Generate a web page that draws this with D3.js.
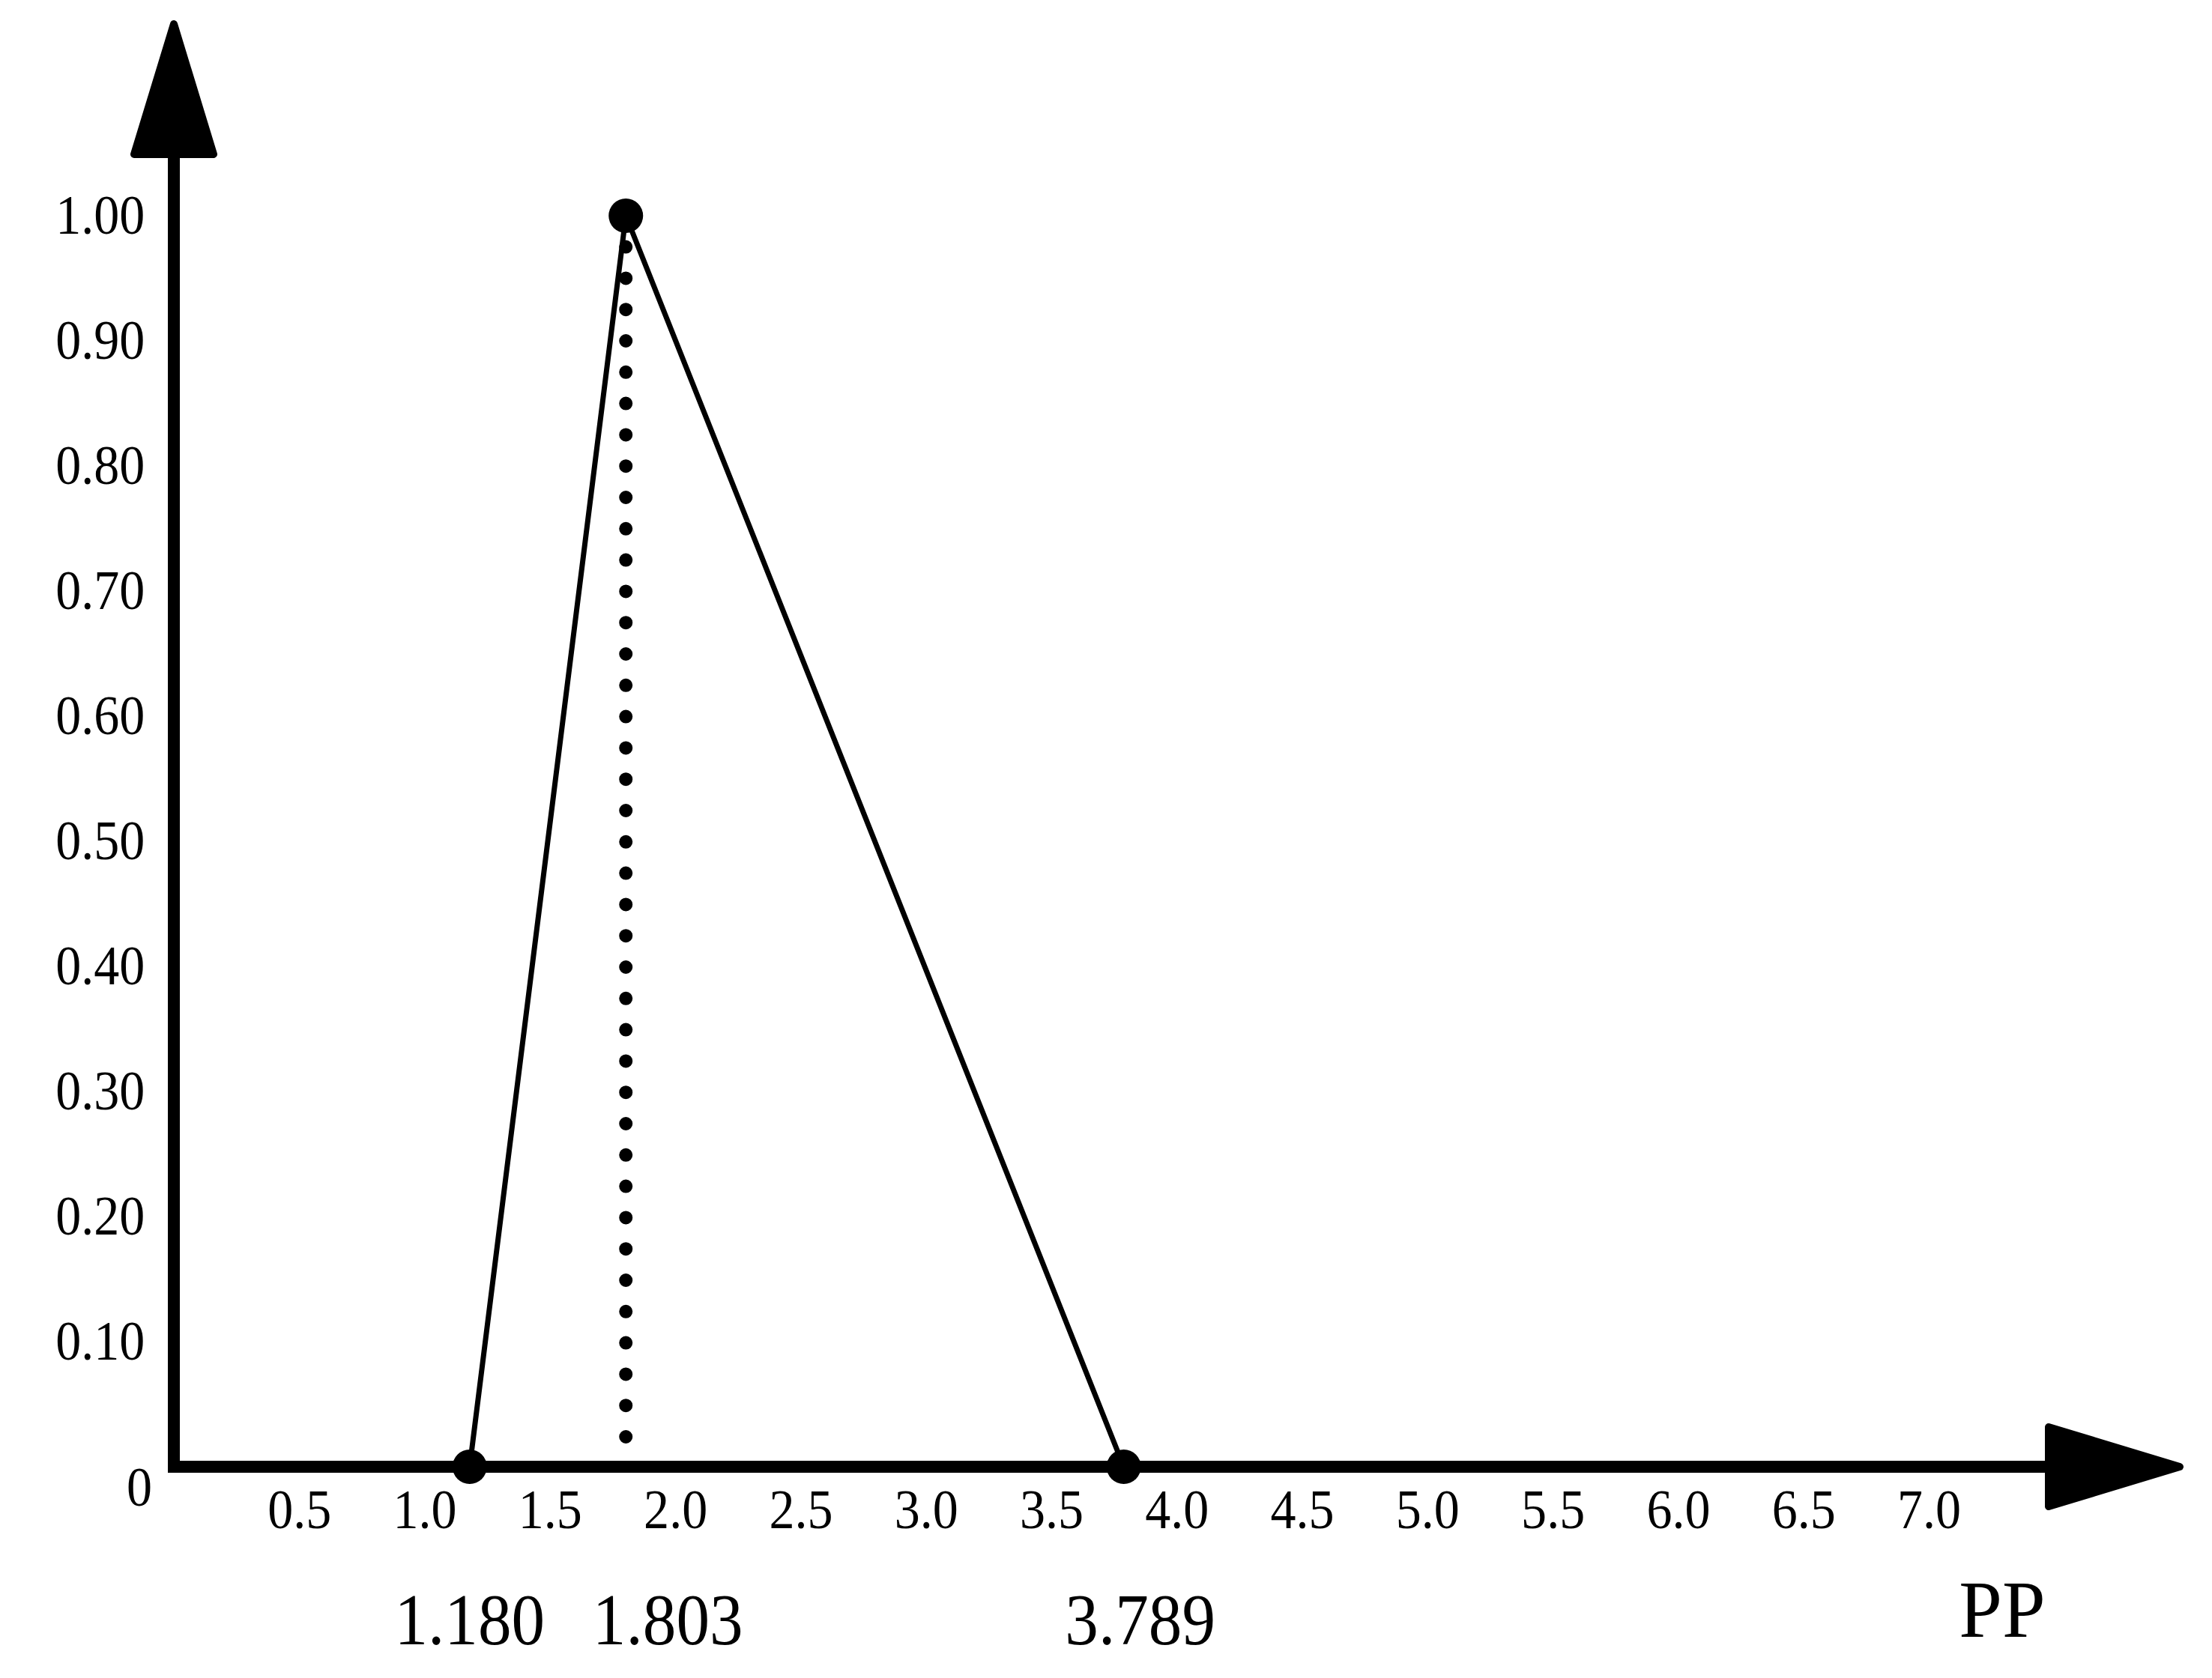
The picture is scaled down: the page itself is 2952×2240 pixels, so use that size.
<!DOCTYPE html>
<html>
<head>
<meta charset="utf-8">
<script src="https://cdn.jsdelivr.net/npm/d3@7"></script>
<style>
  html, body { margin: 0; padding: 0; background: #fff; }
  svg { display: block; }
</style>
</head>
<body>
<div id="chart"></div>
<script>
// data
var xTicks = [0.5, 1.0, 1.5, 2.0, 2.5, 3.0, 3.5, 4.0, 4.5, 5.0, 5.5, 6.0, 6.5, 7.0];
var yTicks = [0.1, 0.2, 0.3, 0.4, 0.5, 0.6, 0.7, 0.8, 0.9, 1.0];
var pointX = [1.180, 1.803, 3.789];
var pointY = [0, 1, 0];
var pointLabels = ["1.180", "1.803", "3.789"];
var axisName = "PP";

var W = 2952, H = 2240;
var font = "'Liberation Serif', 'Times New Roman', serif";
var squeeze = "scale(0.92,1)";

var x = d3.scaleLinear().domain([0, 7]).range([232, 2574]);
var y = d3.scaleLinear().domain([0, 1]).range([1958, 288]);

var svg = d3.select("#chart").append("svg")
    .attr("width", W)
    .attr("height", H)
    .attr("viewBox", "0 0 " + W + " " + H);

svg.append("rect").attr("width", W).attr("height", H).attr("fill", "#fff");

// axis lines with arrow heads
var xEnd = 2730, yEnd = 210;
svg.append("path")
    .attr("d", "M" + x(0) + "," + yEnd + "L" + x(0) + "," + y(0) + "L" + xEnd + "," + y(0))
    .attr("fill", "none")
    .attr("stroke", "#000")
    .attr("stroke-width", 16)
    .attr("stroke-linejoin", "miter");

svg.append("path")
    .attr("d", "M" + (xEnd + 4) + "," + (y(0) - 53) + "L" + (xEnd + 179) + "," + y(0) +
               "L" + (xEnd + 4) + "," + (y(0) + 53) + "Z")
    .attr("fill", "#000").attr("stroke", "#000")
    .attr("stroke-width", 10).attr("stroke-linejoin", "round");

svg.append("path")
    .attr("d", "M" + (x(0) - 53) + "," + (yEnd - 4) + "L" + x(0) + "," + (yEnd - 178) +
               "L" + (x(0) + 53) + "," + (yEnd - 4) + "Z")
    .attr("fill", "#000").attr("stroke", "#000")
    .attr("stroke-width", 10).attr("stroke-linejoin", "round");

// x tick labels
var gx = svg.append("g")
    .attr("transform", "translate(0," + y(0) + ")")
    .style("font-family", font)
    .style("font-size", "74px")
    .call(d3.axisBottom(x).tickValues(xTicks).tickFormat(d3.format(".1f")).tickSize(0));
gx.select(".domain").remove();
gx.selectAll("text")
    .attr("y", 82).attr("dy", 0)
    .attr("fill", "#000")
    .attr("transform", squeeze);

// y tick labels
var gy = svg.append("g")
    .attr("transform", "translate(" + x(0) + ",0)")
    .style("font-family", font)
    .style("font-size", "74px")
    .call(d3.axisLeft(y).tickValues(yTicks).tickFormat(d3.format(".2f")).tickSize(0));
gy.select(".domain").remove();
gy.selectAll("text")
    .attr("x", -42)
    .attr("fill", "#000")
    .attr("transform", squeeze);

// origin label
svg.append("g")
    .attr("transform", "translate(" + (x(0) - 29) + "," + (y(0) + 52) + ")")
  .append("text")
    .attr("text-anchor", "end")
    .attr("transform", squeeze)
    .style("font-family", font)
    .style("font-size", "74px")
    .text("0");

// dotted drop line from the peak
var peak = 1;
svg.append("line")
    .attr("x1", x(pointX[peak])).attr("x2", x(pointX[peak]))
    .attr("y1", y(0) - 40).attr("y2", y(pointY[peak]))
    .attr("stroke", "#000")
    .attr("stroke-width", 18)
    .attr("stroke-linecap", "round")
    .attr("stroke-dasharray", "0 41.8");

// triangle
var line = d3.line()
    .x(function(d, i) { return x(pointX[i]); })
    .y(function(d, i) { return y(pointY[i]); });

svg.append("path")
    .datum(pointX)
    .attr("d", line)
    .attr("fill", "none")
    .attr("stroke", "#000")
    .attr("stroke-width", 7)
    .attr("stroke-linejoin", "round");

svg.selectAll(".pt")
    .data(pointX)
    .enter().append("circle")
      .attr("class", "pt")
      .attr("cx", function(d) { return x(d); })
      .attr("cy", function(d, i) { return y(pointY[i]); })
      .attr("r", 23)
      .attr("fill", "#000");

// value labels under the axis
var labelNudge = [0, 56, 22];
svg.selectAll(".vlab")
    .data(pointLabels)
    .enter().append("g")
      .attr("class", "vlab")
      .attr("transform", function(d, i) { return "translate(" + (x(pointX[i]) + labelNudge[i]) + ",2195)"; })
    .append("text")
      .attr("text-anchor", "middle")
      .attr("transform", squeeze)
      .style("font-family", font)
      .style("font-size", "97px")
      .text(function(d) { return d; });

svg.append("g")
    .attr("transform", "translate(2672,2185)")
  .append("text")
    .attr("text-anchor", "middle")
    .attr("transform", "scale(0.96,1)")
    .style("font-family", font)
    .style("font-size", "108px")
    .text(axisName);
</script>
</body>
</html>
